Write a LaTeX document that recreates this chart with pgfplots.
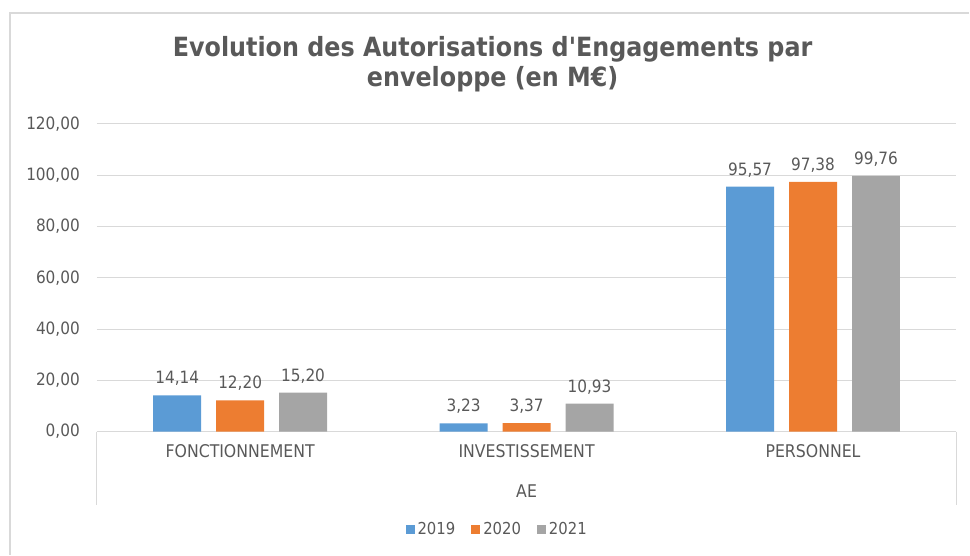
\documentclass[border=0pt]{standalone}
\usepackage{fontspec}
\setmainfont{DejaVu Sans Condensed}[Ligatures=TeXOff]
\usepackage{pgfplots}
\pgfplotsset{compat=1.18}
\definecolor{cblue}{HTML}{5B9BD5}
\definecolor{corange}{HTML}{ED7D31}
\definecolor{cgray}{HTML}{A5A5A5}
\definecolor{ctext}{HTML}{595959}
\definecolor{cgrid}{HTML}{D9D9D9}
\definecolor{cborder}{HTML}{D9D9D9}
\begin{document}
\begin{tikzpicture}[x=1pt,y=1pt]
\path (0,0) rectangle (970,555);
\draw[cborder, line width=1.5pt] (10,0) -- (10,542) -- (970,542);
\node[font=\bfseries\fontsize{26.5}{30}\selectfont, text=ctext, align=center] at (493,491)
  {Evolution des Autorisations d'Engagements par\\enveloppe (en M€)};
\begin{axis}[
  at={(97pt,123pt)}, anchor=south west,
  scale only axis, width=860pt, height=308pt,
  ybar=15pt, bar width=48pt,
  ymin=0, ymax=120, ytick={0,20,...,120},
  xmin=-0.5, xmax=2.5, xtick={0,1,2},
  xticklabels={FONCTIONNEMENT,INVESTISSEMENT,PERSONNEL},
  axis x line*=bottom, axis y line*=left,
  x axis line style={cgrid, line width=1pt, -},
  y axis line style={draw=none},
  major tick length=0pt,
  ymajorgrids, grid style={cgrid, line width=1pt},
  yticklabel={\pgfmathprintnumber[fixed,fixed zerofill,precision=2,use comma,assume math mode=true]{\tick}},
  yticklabel style={font=\fontsize{17}{20}\selectfont, text=ctext, inner xsep=0pt, xshift=-17pt},
  xticklabel style={font=\fontsize{17.5}{20}\selectfont, text=ctext, inner sep=0pt, yshift=-13pt},
  xlabel={AE},
  xlabel style={font=\fontsize{17.5}{20}\selectfont, text=ctext, at={(axis description cs:0.5,0)}, anchor=center, yshift=-60pt},
  clip=false,
  nodes near coords={\pgfmathprintnumber[fixed,fixed zerofill,precision=2,use comma,assume math mode=true]{\pgfplotspointmeta}},
  every node near coord/.append style={font=\fontsize{17}{20}\selectfont, text=ctext, anchor=south, yshift=6pt},
  legend style={at={(axis description cs:0.4663,-0.318)}, anchor=center, draw=none, fill=none,
    legend columns=3, font=\fontsize{16.5}{19}\selectfont, text=ctext,
    /tikz/every even column/.append style={column sep=13pt},
    nodes={inner xsep=3pt, inner ysep=0pt}},
  legend image code/.code={\fill[#1] (0pt,-4.5pt) rectangle (9pt,4.5pt);},
]
\addplot[fill=cblue, draw=none] coordinates {(0,14.14) (1,3.23) (2,95.57)};
\addplot[fill=corange, draw=none] coordinates {(0,12.20) (1,3.37) (2,97.38)};
\addplot[fill=cgray, draw=none] coordinates {(0,15.20) (1,10.93) (2,99.76)};
\legend{2019,2020,2021}
\end{axis}
\draw[cgrid, line width=1pt] (97,123) -- (97,50);
\draw[cgrid, line width=1pt] (957,123) -- (957,50);
\end{tikzpicture}
\end{document}
